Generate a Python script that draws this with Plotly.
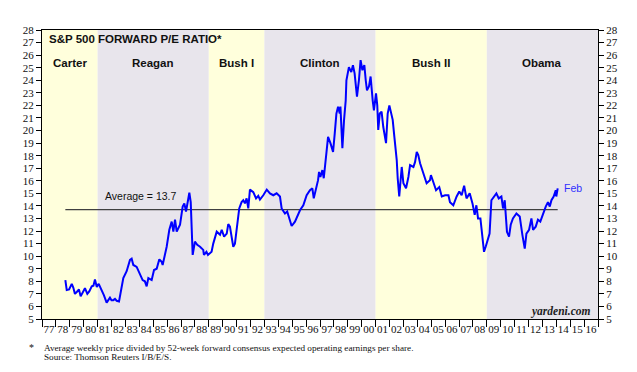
import plotly.graph_objects as go

# ---------------- data ----------------
years = [1978.68, 1978.78, 1978.95, 1979.14, 1979.25, 1979.37, 1979.5, 1979.66, 1979.78, 1979.95,
         1980.09, 1980.26, 1980.4, 1980.58, 1980.7, 1980.81, 1980.94, 1981.08, 1981.29, 1981.45,
         1981.65, 1981.78, 1981.89, 1982.0, 1982.13, 1982.25, 1982.37, 1982.54, 1982.66, 1982.85,
         1983.09, 1983.33, 1983.45, 1983.57, 1983.81, 1984.05, 1984.24, 1984.4, 1984.53, 1984.65,
         1984.89, 1985.06, 1985.25, 1985.44, 1985.61, 1985.68, 1985.85, 1985.97, 1986.16, 1986.33,
         1986.45, 1986.57, 1986.69, 1986.93, 1987.12, 1987.24, 1987.36, 1987.53, 1987.6, 1987.7,
         1987.8, 1987.84, 1988.0, 1988.17, 1988.37, 1988.6, 1988.65, 1988.83, 1988.94, 1989.2,
         1989.32, 1989.57, 1989.81, 1989.93, 1990.1, 1990.29, 1990.4, 1990.52, 1990.76, 1990.88,
         1991.0, 1991.19, 1991.36, 1991.48, 1991.6, 1991.72, 1991.84, 1991.96, 1992.2, 1992.4,
         1992.56, 1992.68, 1992.92, 1993.17, 1993.4, 1993.64, 1993.88, 1994.12, 1994.24, 1994.48,
         1994.64, 1994.84, 1994.96, 1995.2, 1995.56, 1995.8, 1996.04, 1996.28, 1996.45, 1996.55,
         1996.74, 1996.86, 1996.93, 1997.03, 1997.17, 1997.27, 1997.46, 1997.58, 1997.75, 1997.94,
         1998.06, 1998.18, 1998.3, 1998.42, 1998.47, 1998.61, 1998.73, 1998.85, 1998.9, 1999.08,
         1999.25, 1999.37, 1999.49, 1999.66, 1999.8, 1999.92, 2000.05, 2000.19, 2000.29, 2000.38,
         2000.52, 2000.64, 2000.79, 2000.88, 2001.03, 2001.12, 2001.19, 2001.3, 2001.43, 2001.55,
         2001.75, 2001.87, 2001.99, 2002.11, 2002.23, 2002.35, 2002.52, 2002.59, 2002.7, 2002.8,
         2002.88, 2003.0, 2003.19, 2003.36, 2003.48, 2003.72, 2003.84, 2003.96, 2004.07, 2004.2,
         2004.39, 2004.55, 2004.67, 2004.91, 2004.98, 2005.15, 2005.35, 2005.58, 2005.76, 2006.0,
         2006.24, 2006.35, 2006.59, 2006.83, 2007.02, 2007.19, 2007.37, 2007.54, 2007.77, 2007.97,
         2008.13, 2008.25, 2008.37, 2008.54, 2008.68, 2008.8, 2008.92, 2009.04, 2009.2, 2009.33,
         2009.5, 2009.69, 2009.86, 2010.05, 2010.17, 2010.29, 2010.45, 2010.6, 2010.72, 2010.88,
         2011.13, 2011.37, 2011.56, 2011.73, 2011.85, 2012.04, 2012.21, 2012.33, 2012.52, 2012.68,
         2012.85, 2013.04, 2013.24, 2013.4, 2013.53, 2013.65, 2013.81, 2013.96, 2014.0, 2014.1]

forward_pe = [8.1, 7.3, 7.35, 7.8, 7.5, 7.0, 7.15, 7.35, 6.8, 7.1,
              7.45, 7.0, 7.2, 7.6, 7.65, 8.15, 7.55, 7.8, 7.3, 6.9,
              6.3, 6.55, 6.7, 6.5, 6.5, 6.6, 6.45, 6.4, 7.2, 8.25,
              8.8, 9.7, 9.8, 9.3, 9.15, 8.6, 8.1, 8.0, 7.6, 8.25,
              8.1, 8.9, 9.0, 9.75, 9.55, 9.3, 10.2, 10.75, 12.1, 12.75,
              11.95, 12.9, 11.95, 12.5, 13.95, 14.2, 13.55, 14.9, 15.05, 14.3,
              10.3, 10.1, 11.15, 10.9, 10.75, 10.5, 10.1, 10.35, 10.1, 10.35,
              11.0, 11.95, 11.7, 12.1, 11.55, 11.8, 12.55, 12.35, 10.75, 11.0,
              12.1, 13.8, 14.3, 14.45, 14.2, 14.6, 13.8, 15.3, 15.1, 14.6,
              14.8, 14.5, 14.85, 15.3, 15.0, 14.85, 15.0, 14.75, 13.8, 13.4,
              13.55, 12.75, 12.4, 12.75, 13.65, 14.05, 14.85, 15.25, 15.4, 14.6,
              15.55, 16.05, 16.7, 16.3, 16.85, 16.2, 18.2, 19.5, 19.0, 18.3,
              19.75, 21.35, 21.9, 21.35, 21.9, 18.6, 20.85, 22.4, 24.0, 25.05,
              24.65, 25.2, 24.55, 22.7, 24.0, 25.6, 24.8, 25.2, 24.0, 23.2,
              23.5, 24.3, 22.4, 21.6, 22.95, 22.0, 20.05, 21.35, 21.5, 20.3,
              19.0, 21.35, 22.0, 21.5, 20.85, 19.5, 17.65, 16.2, 14.75, 16.05,
              17.1, 15.8, 15.4, 16.3, 17.25, 17.1, 17.5, 18.3, 18.05, 17.4,
              16.7, 16.3, 15.8, 16.05, 16.45, 15.9, 15.25, 15.5, 14.75, 14.85,
              14.85, 14.3, 14.05, 14.75, 15.15, 14.85, 15.6, 14.6, 15.0, 14.2,
              13.3, 14.05, 13.0, 13.0, 11.8, 10.35, 10.75, 11.3, 11.8, 14.45,
              14.75, 15.0, 14.6, 14.75, 13.8, 14.45, 11.95, 11.55, 12.5, 13.0,
              13.4, 13.15, 11.7, 10.6, 11.8, 12.1, 13.0, 12.1, 12.35, 12.9,
              12.75, 13.4, 13.95, 14.3, 13.95, 14.45, 14.75, 15.25, 14.75, 15.4]

average_pe = 13.7
presidents = ["Carter", "Reagan", "Bush I", "Clinton", "Bush II", "Obama"]
term_start = [1977, 1981, 1989, 1993, 2001, 2009]
term_end = [1981, 1989, 1993, 2001, 2009, 2017]
year_ticks = list(range(1977, 2017))
year_labels = [f"{y % 100:02d}" for y in year_ticks]
y_ticks = list(range(5, 29))

# ---------------- figure ----------------
SERIF = "Liberation Serif, Times New Roman, serif"
SANS = "Liberation Sans, Arial, sans-serif"
band_colors = ["#FFFFDC", "#E8E5EC"]

fig = go.Figure()

shapes = []
for i, (s, e) in enumerate(zip(term_start, term_end)):
    shapes.append(dict(type="rect", xref="x", yref="paper", x0=s, x1=e, y0=0, y1=1,
                       fillcolor=band_colors[i % 2], line=dict(width=0), layer="below"))

fig.add_trace(go.Scatter(x=[years[0], years[-1]], y=[average_pe, average_pe], mode="lines",
                         line=dict(color="#404040", width=1.2), hoverinfo="skip", showlegend=False))
fig.add_trace(go.Scatter(x=years, y=forward_pe, mode="lines",
                         line=dict(color="#0000FF", width=2), showlegend=False))
# invisible trace on right axis
fig.add_trace(go.Scatter(x=[years[0]], y=[average_pe], yaxis="y2", mode="markers",
                         marker=dict(opacity=0), showlegend=False, hoverinfo="skip"))

annotations = [
    dict(text="<b>S&P 500 FORWARD P/E RATIO*</b>", xref="paper", yref="paper", x=0.009, y=0.969,
         xanchor="left", yanchor="middle", showarrow=False, font=dict(family=SANS, size=11.5, color="#111")),
    dict(text="Average = 13.7", xref="x", yref="y", x=1981.4, y=14.8, xanchor="left", yanchor="middle",
         showarrow=False, font=dict(family=SANS, size=10.5, color="#111")),
    dict(text="Feb", xref="x", yref="y", x=years[-1] + 0.3, y=15.45, xanchor="left", yanchor="middle",
         showarrow=False, font=dict(family=SANS, size=10.5, color="#3030FF")),
    dict(text="<b><i>yardeni.com</i></b>", xref="paper", yref="paper", x=0.9915, y=0.025,
         xanchor="right", yanchor="middle", showarrow=False, font=dict(family=SERIF, size=11.5, color="#222")),
    dict(text="*", xref="paper", yref="paper", x=-0.018, y=-0.100, xanchor="center", yanchor="middle",
         showarrow=False, font=dict(family=SERIF, size=10, color="#111")),
    dict(text="Average weekly price divided by 52-week forward consensus expected operating earnings per share.",
         xref="paper", yref="paper", x=0.0, y=-0.100, xanchor="left", yanchor="middle",
         showarrow=False, font=dict(family=SERIF, size=9.2, color="#111")),
    dict(text="Source: Thomson Reuters I/B/E/S.", xref="paper", yref="paper", x=0.0, y=-0.133,
         xanchor="left", yanchor="middle", showarrow=False, font=dict(family=SERIF, size=9.2, color="#111")),
]
for name, s, e in zip(presidents, term_start, term_end):
    annotations.append(dict(text=f"<b>{name}</b>", xref="x", yref="paper", x=(s + e) / 2, y=0.886,
                            xanchor="center", yanchor="middle", showarrow=False,
                            font=dict(family=SANS, size=11.5, color="#111")))

axis_font = dict(family=SERIF, size=11, color="#111")
fig.update_layout(
    width=629, height=364,
    margin=dict(l=34, r=39, t=22, b=53),
    paper_bgcolor="white", plot_bgcolor="white",
    shapes=shapes, annotations=annotations,
    xaxis=dict(range=[1977, 2017], tickvals=[y + 0.5 for y in year_ticks], ticktext=year_labels,
               ticks="", showgrid=False, zeroline=False, showline=True, linecolor="black",
               linewidth=1.2, mirror=True, tickfont=axis_font,
               minor=dict(tickvals=list(range(1977, 2018)), ticks="outside", ticklen=7,
                          tickcolor="black", tickwidth=1, showgrid=False)),
    yaxis=dict(range=[5, 28], tickvals=y_ticks, ticks="outside", ticklen=5, tickcolor="black",
               showgrid=False, zeroline=False, showline=True, linecolor="black", linewidth=1.2,
               mirror=True, tickfont=axis_font),
    yaxis2=dict(range=[5, 28], tickvals=y_ticks, ticks="outside", ticklen=5, tickcolor="black",
                overlaying="y", side="right", showgrid=False, zeroline=False, showline=True,
                linecolor="black", linewidth=1.2, tickfont=axis_font),
    showlegend=False,
)

fig.write_html("out.html")
